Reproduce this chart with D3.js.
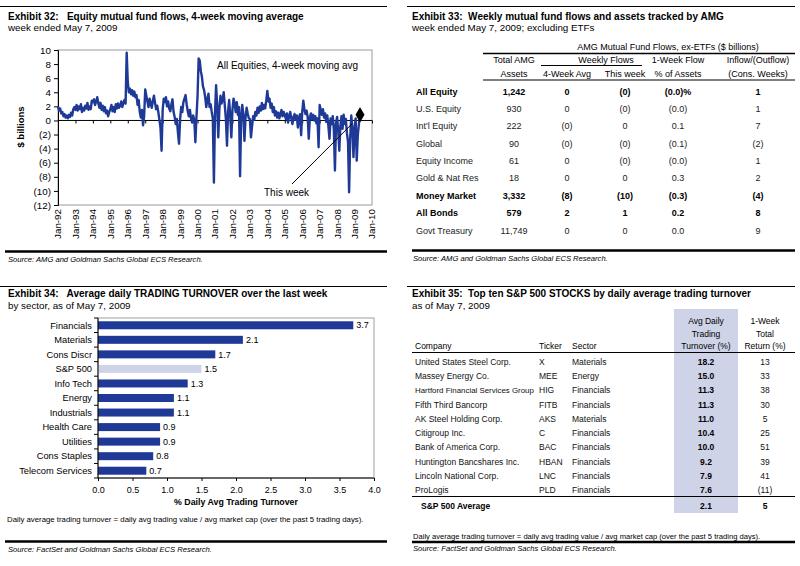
<!DOCTYPE html>
<html><head><meta charset="utf-8">
<script src="https://cdn.jsdelivr.net/npm/d3@7"></script>
<style>
body{margin:0;background:#fff;}
svg{display:block;font-family:"Liberation Sans",Arial,sans-serif;}
text{white-space:pre;}
</style></head><body>
<svg id="c" width="800" height="566"></svg>
<script>
// ---------- Exhibit 32 data: 4-week moving average of equity flows ($ bn) ----------
const flowStartYear = 1992;
const flowPointsPerYear = 16;
const weeklyFlows = [
  /*1992*/ 2.0, 1.4, 1.7, 1.0, 1.2, 0.6, 0.9, 0.4, 0.7, 0.3, 0.8, 0.5, 1.1, 0.7, 1.6, 1.9,
  /*1993*/ 1.5, 2.2, 1.4, 2.0, 1.6, 2.3, 1.2, 1.8, 1.4, 2.1, 1.7, 2.5, 1.5, 2.0, 1.6, 2.8,
  /*1994*/ 2.6, 3.0, 2.2, 2.7, 3.3, 2.4, 1.8, 2.5, 1.5, 2.1, 1.3, 1.9, 1.0, 1.4, 0.6, 1.2,
  /*1995*/ 1.6, 2.2, 1.3, 1.9, 1.2, 2.3, 1.7, 2.4, 1.8, 2.1, 2.7, 1.9, 2.5, 2.9, 2.4, 9.6,
  /*1996*/ 5.5, 4.0, 4.5, 3.7, 4.3, 3.5, 4.1, 3.3, 3.6, 2.2, 2.9, 1.2, 0.4, 1.5, -0.7, 0.6,
  /*1997*/ 4.4, 3.5, 2.7, 1.9, 3.1, 2.4, 1.8, 2.8, 3.5, 2.5, 1.6, 2.1, 1.2, 0.1, -1.0, -4.3,
  /*1998*/ 1.5, 3.1, 2.6, 3.3, 2.0, 2.7, 1.7, 1.3, 2.3, 3.0, 1.2, 0.5, -0.5, 0.2, -1.7, -3.3,
  /*1999*/ 0.2, 1.9, 1.2, 2.6, 3.1, 3.6, 2.3, 1.3, 0.6, 1.5, 0.3, -0.3, 0.7, 0.1, -3.1, 0.5,
  /*2000*/ 3.5, 8.8, 8.5, 7.0, 6.2, 4.8, 4.3, 3.3, 1.9, 3.0, 3.8, 1.9, 2.3, 1.2, 0.3, -8.8,
  /*2001*/ 1.0, 5.0, 2.2, -2.4, 1.6, 3.5, 2.4, 3.0, 4.0, 2.1, 0.2, -3.6, 1.3, 2.9, 0.6, -2.4,
  /*2002*/ 1.5, 3.1, 2.4, 1.2, 2.6, 0.8, 1.9, -7.9, 0.5, 2.2, 0.9, -2.9, 0.4, 1.8, 1.0, 0.3,
  /*2003*/ 0.2, -2.4, -0.8, 0.6, 0.1, 1.2, 0.7, 1.8, 1.1, 2.0, 1.4, 2.5, 1.6, 2.2, 1.7, 2.8,
  /*2004*/ 4.2, 2.7, 3.1, 1.8, 2.4, 1.2, 1.9, 0.7, 1.3, 0.4, 1.1, 0.3, 0.9, 1.5, 0.6, 1.2,
  /*2005*/ 0.8, 0.2, 1.0, -0.3, 0.6, 1.2, 0.3, -0.5, 0.5, 0.9, 0.1, 0.7, -1.0, 0.4, 0.9, -2.1,
  /*2006*/ 1.2, 2.8, 1.6, 0.9, 1.4, 0.5, -2.6, 0.4, 1.0, 0.2, 0.8, 0.0, 0.6, -0.4, 0.3, -3.8,
  /*2007*/ 2.2, 1.5, 0.8, 1.6, 0.4, 1.0, -0.2, 0.7, -0.8, -2.6, 0.3, -0.5, 0.6, -1.2, -7.1, -0.4,
  /*2008*/ 0.5, -1.5, -4.3, -0.8, 0.6, -1.2, 0.8, -0.5, 0.2, -1.8, -3.0, -10.2, -2.5, 0.7, -1.0, -5.2,
  /*2009*/ -1.2, 0.3, -5.7, -2.0, -0.5, 0.8
];
const flowYearTicks = [1992,1993,1994,1995,1996,1997,1998,1999,2000,2001,2002,2003,2004,2005,2006,2007,2008,2009,2010];
const flowYearLabels = ["Jan-92","Jan-93","Jan-94","Jan-95","Jan-96","Jan-97","Jan-98","Jan-99","Jan-00","Jan-01","Jan-02","Jan-03","Jan-04","Jan-05","Jan-06","Jan-07","Jan-08","Jan-09","Jan-10"];
const flowValueTicks = [10,8,6,4,2,0,-2,-4,-6,-8,-10,-12];

// ---------- Exhibit 33 data ----------
const amgCategories = ["All Equity","U.S. Equity","Int'l Equity","Global","Equity Income","Gold & Nat Res","Money Market","All Bonds","Govt Treasury"];
const amgBoldRows = ["All Equity","Money Market","All Bonds"];
const amgAssets = ["1,242","930","222","90","61","18","3,332","579","11,749"];
const amgFourWeek = ["0","0","(0)","(0)","0","0","(8)","2","0"];
const amgThisWeek = ["(0)","(0)","0","(0)","(0)","0","(10)","1","0"];
const amgPctAssets = ["(0.0)%","(0.0)","0.1","(0.1)","(0.0)","0.3","(0.3)","0.2","0.0"];
const amgConsWeeks = ["1","1","7","(2)","1","2","(4)","8","9"];

// ---------- Exhibit 34 data ----------
const sectors = ["Financials","Materials","Cons Discr","S&P 500","Info Tech","Energy","Industrials","Health Care","Utilities","Cons Staples","Telecom Services"];
const sectorTurnover = [3.7, 2.1, 1.7, 1.5, 1.3, 1.1, 1.1, 0.9, 0.9, 0.8, 0.7];
const turnoverTicks = [0,0.5,1,1.5,2,2.5,3,3.5,4];
const benchmarkSector = "S&P 500";

// ---------- Exhibit 35 data ----------
const companies = ["United States Steel Corp.","Massey Energy Co.","Hartford Financial Services Group","Fifth Third Bancorp","AK Steel Holding Corp.","Citigroup Inc.","Bank of America Corp.","Huntington Bancshares Inc.","Lincoln National Corp.","ProLogis"];
const tickers = ["X","MEE","HIG","FITB","AKS","C","BAC","HBAN","LNC","PLD"];
const companySectors = ["Materials","Energy","Financials","Financials","Materials","Financials","Financials","Financials","Financials","Financials"];
const stockTurnover = [18.2, 15.0, 11.3, 11.3, 11.0, 10.4, 10.0, 9.2, 7.9, 7.6];
const stockReturn = [13, 33, 38, 30, 5, 25, 51, 39, 41, -11];
const spAvgTurnover = 2.1;
const spAvgReturn = 5;

// ---------- drawing ----------
const svg = d3.select("#c");
const BLUE = "#1f3a96";
const LAV = "#cfd3e8";

function txt(x, y, s, o = {}) {
  const t = svg.append("text").attr("x", x).attr("y", y)
    .attr("font-size", o.size || 8.5)
    .attr("text-anchor", o.anchor || "start")
    .attr("fill", o.fill || "#000")
    .text(s);
  if (o.bold) t.attr("font-weight", "bold");
  if (o.italic) t.attr("font-style", "italic");
  return t;
}
function hline(x1, x2, y, w, color) {
  svg.append("line").attr("x1", x1).attr("x2", x2).attr("y1", y).attr("y2", y)
    .attr("stroke", color || "#000").attr("stroke-width", w || 1);
}

// panel headers / footers
hline(0, 387, 6.5, 1);
txt(8, 19.5, "Exhibit 32:   Equity mutual fund flows, 4-week moving average", {size: 10, bold: true});
txt(8, 31, "week ended May 7, 2009", {size: 9.8});
hline(5, 387, 251.5, 2.5);
txt(8, 261.5, "Source: AMG and Goldman Sachs Global ECS Research.", {size: 7.6, italic: true});

hline(407, 795, 6.5, 1);
txt(412, 19.5, "Exhibit 33:  Weekly mutual fund flows and assets tracked by AMG", {size: 10, bold: true});
txt(412, 31, "week ended May 7, 2009; excluding ETFs", {size: 9.8});
hline(412, 795, 250.5, 2.5);
txt(413, 260.5, "Source: AMG and Goldman Sachs Global ECS Research.", {size: 7.6, italic: true});

hline(0, 387, 286.5, 1);
txt(8, 297, "Exhibit 34:   Average daily TRADING TURNOVER over the last week", {size: 10, bold: true});
txt(8, 308.5, "by sector, as of May 7, 2009", {size: 9.8});
txt(7, 522, "Daily average trading turnover = daily avg trading value / avg market cap (over the past 5 trading days).", {size: 7.8});
hline(5, 387, 541.5, 2.5);
txt(8, 551.5, "Source: FactSet and Goldman Sachs Global ECS Research.", {size: 7.6, italic: true});

hline(407, 795, 286.5, 1);
txt(412, 297, "Exhibit 35:  Top ten S&P 500 STOCKS by daily average trading turnover", {size: 10, bold: true});
txt(412, 308.5, "as of May 7, 2009", {size: 9.8});

// ================= Exhibit 32 chart =================
(function () {
  const x = d3.scaleLinear().domain([1992, 2010]).range([58, 372]);
  const y = d3.scaleLinear().domain([-12, 10]).range([205, 50]);
  svg.append("rect").attr("x", 58).attr("y", 50).attr("width", 314).attr("height", 155)
    .attr("fill", "none").attr("stroke", "#9a9a9a").attr("stroke-width", 1);

  const ya = svg.append("g").attr("transform", "translate(58,0)")
    .call(d3.axisLeft(y).tickValues(flowValueTicks).tickSize(4).tickPadding(3)
      .tickFormat(v => v < 0 ? "(" + (-v) + ")" : String(v)));
  ya.select(".domain").attr("stroke", "#000");
  ya.selectAll("text").attr("font-size", 9.8).attr("font-family", null).attr("fill", "#000");

  const xa = svg.append("g").attr("transform", `translate(0,${y(0)})`)
    .call(d3.axisBottom(x).tickValues(flowYearTicks).tickSize(3).tickFormat(""));
  xa.select(".domain").attr("stroke", "#000").attr("d", `M${x(1992)},0H${x(2010)}`);

  svg.append("g").selectAll("text").data(flowYearTicks).join("text")
    .attr("transform", d => `translate(${x(d)},209) rotate(-90)`)
    .attr("text-anchor", "end").attr("dy", "0.35em").attr("font-size", 9.8)
    .text((d, i) => flowYearLabels[i]);

  svg.append("text").attr("transform", "translate(24,127) rotate(-90)")
    .attr("text-anchor", "middle").attr("font-size", 9.5).attr("font-weight", "bold")
    .text("$ billions");

  const line = d3.line()
    .x((d, i) => x(flowStartYear + i / flowPointsPerYear))
    .y(d => y(d));
  svg.append("path").datum(weeklyFlows).attr("d", line)
    .attr("fill", "none").attr("stroke", BLUE).attr("stroke-width", 2.4)
    .attr("stroke-linejoin", "round");

  const li = weeklyFlows.length - 1;
  const px = x(flowStartYear + li / flowPointsPerYear), py = y(weeklyFlows[li]);
  svg.append("path").attr("d", d3.symbol(d3.symbolDiamond, 70)())
    .attr("transform", `translate(${px},${py})`).attr("fill", "#000");

  txt(217, 69, "All Equities, 4-week moving avg", {size: 10});
  svg.append("line").attr("x1", 292).attr("y1", 184).attr("x2", px - 8).attr("y2", py + 9)
    .attr("stroke", "#000").attr("stroke-width", 1);
  txt(264, 196, "This week", {size: 10});
})();

// ================= Exhibit 33 table =================
(function () {
  const cols = {assets: 514, four: 567, week: 625, pct: 678, cons: 758};
  const fs = 9;
  txt(668, 50, "AMG Mutual Fund Flows, ex-ETFs ($ billions)", {anchor: "middle", size: fs});
  hline(483, 795, 53.5, 1.5);
  txt(cols.assets, 63, "Total AMG", {anchor: "middle", size: fs});
  txt(606, 63, "Weekly Flows", {anchor: "middle", size: fs});
  hline(541, 642, 65.5, 1.2);
  txt(cols.pct, 63, "1-Week Flow", {anchor: "middle", size: fs});
  txt(cols.cons, 63, "Inflow/(Outflow)", {anchor: "middle", size: fs});
  txt(cols.assets, 76.5, "Assets", {anchor: "middle", size: fs});
  txt(cols.four, 76.5, "4-Week Avg", {anchor: "middle", size: fs});
  txt(cols.week, 76.5, "This week", {anchor: "middle", size: fs});
  txt(cols.pct, 76.5, "% of Assets", {anchor: "middle", size: fs});
  txt(cols.cons, 76.5, "(Cons. Weeks)", {anchor: "middle", size: fs});
  hline(483, 795, 80, 1.2);

  amgCategories.forEach((c, i) => {
    const yy = 94.5 + i * 17.375;
    const b = amgBoldRows.includes(c);
    const f = b ? "#000" : "#222";
    txt(416, yy, c, {bold: b, fill: f, size: fs});
    txt(cols.assets, yy, amgAssets[i], {bold: b, anchor: "middle", fill: f, size: fs});
    txt(cols.four, yy, amgFourWeek[i], {bold: b, anchor: "middle", fill: f, size: fs});
    txt(cols.week, yy, amgThisWeek[i], {bold: b, anchor: "middle", fill: f, size: fs});
    txt(cols.pct, yy, amgPctAssets[i], {bold: b, anchor: "middle", fill: f, size: fs});
    txt(cols.cons, yy, amgConsWeeks[i], {bold: b, anchor: "middle", fill: f, size: fs});
  });
})();

// ================= Exhibit 34 bar chart =================
(function () {
  const x = d3.scaleLinear().domain([0, 4]).range([98, 374]);
  const y = d3.scaleBand().domain(sectors).range([318, 478]).paddingInner(0.45).paddingOuter(0.225);
  svg.append("rect").attr("x", 98).attr("y", 318).attr("width", 276).attr("height", 160)
    .attr("fill", "none").attr("stroke", "#a0a0a0").attr("stroke-width", 1);

  svg.append("g").selectAll("rect").data(sectors).join("rect")
    .attr("x", x(0)).attr("y", d => y(d))
    .attr("width", (d, i) => x(sectorTurnover[i]) - x(0))
    .attr("height", y.bandwidth())
    .attr("fill", d => d === benchmarkSector ? LAV : BLUE);

  svg.append("g").selectAll("text").data(sectors).join("text")
    .attr("x", (d, i) => x(sectorTurnover[i]) + 3)
    .attr("y", d => y(d) + y.bandwidth() / 2).attr("dy", "0.35em")
    .attr("font-size", 9).text((d, i) => d3.format(".1f")(sectorTurnover[i]));

  svg.append("g").selectAll("text").data(sectors).join("text")
    .attr("x", 92).attr("y", d => y(d) + y.bandwidth() / 2).attr("dy", "0.35em")
    .attr("text-anchor", "end").attr("font-size", 9.3).text(d => d);

  // left axis with ticks between categories
  svg.append("line").attr("x1", 98).attr("x2", 98).attr("y1", 318).attr("y2", 478).attr("stroke", "#000");
  const step = y.step();
  svg.append("g").selectAll("line").data(d3.range(sectors.length + 1)).join("line")
    .attr("x1", 94).attr("x2", 98)
    .attr("y1", k => 318 + k * step).attr("y2", k => 318 + k * step)
    .attr("stroke", "#000");

  const xa = svg.append("g").attr("transform", "translate(0,478)")
    .call(d3.axisBottom(x).tickValues(turnoverTicks).tickSize(3).tickPadding(6).tickFormat(d3.format(".1f")));
  xa.select(".domain").attr("stroke", "#000").attr("d", `M${x(0)},0H${x(4)}`);
  xa.selectAll("text").attr("font-size", 9).attr("font-family", null).attr("fill", "#000");

  txt(236, 504.5, "% Daily Avg Trading Turnover", {size: 8.8, bold: true, anchor: "middle"});
})();

// ================= Exhibit 35 table =================
(function () {
  const cx = {company: 415, ticker: 539, sector: 572, turn: 706, ret: 765};
  svg.append("rect").attr("x", 674).attr("y", 309).attr("width", 64).attr("height", 204).attr("fill", LAV);

  txt(cx.turn, 324, "Avg Daily", {anchor: "middle"});
  txt(cx.turn, 336.5, "Trading", {anchor: "middle"});
  txt(cx.turn, 349, "Turnover (%)", {anchor: "middle"});
  txt(cx.ret, 324, "1-Week", {anchor: "middle"});
  txt(cx.ret, 336.5, "Total", {anchor: "middle"});
  txt(cx.ret, 349, "Return (%)", {anchor: "middle"});
  txt(cx.company, 349, "Company");
  txt(cx.ticker, 349, "Ticker");
  txt(cx.sector, 349, "Sector");
  hline(412, 795, 352.5, 1);

  const fmtRet = v => v < 0 ? "(" + (-v) + ")" : String(v);
  companies.forEach((c, i) => {
    const yy = 365 + i * 14.22;
    const t = txt(cx.company, yy, c, {fill: "#111"});
    const w = t.node().getComputedTextLength();
    const maxW = cx.ticker - cx.company - 5;
    if (w > maxW) t.attr("font-size", (8.5 * maxW / w).toFixed(2));
    txt(cx.ticker, yy, tickers[i], {fill: "#111"});
    txt(cx.sector, yy, companySectors[i], {fill: "#111"});
    txt(cx.turn, yy, d3.format(".1f")(stockTurnover[i]), {anchor: "middle", bold: true});
    txt(cx.ret, yy, fmtRet(stockReturn[i]), {anchor: "middle", fill: "#111"});
  });
  hline(412, 795, 496.5, 1);
  txt(421, 508.5, "S&P 500 Average", {bold: true});
  txt(cx.turn, 508.5, d3.format(".1f")(spAvgTurnover), {anchor: "middle", bold: true});
  txt(cx.ret, 508.5, fmtRet(spAvgReturn), {anchor: "middle", bold: true});

  txt(413, 538.5, "Daily average trading turnover = daily avg trading value / avg market cap (over the past 5 trading days).", {size: 7.6});
  hline(412, 795, 542, 2.5);
  txt(413, 551, "Source: FactSet and Goldman Sachs Global ECS Research.", {size: 7.6, italic: true});
})();
</script></body></html>
